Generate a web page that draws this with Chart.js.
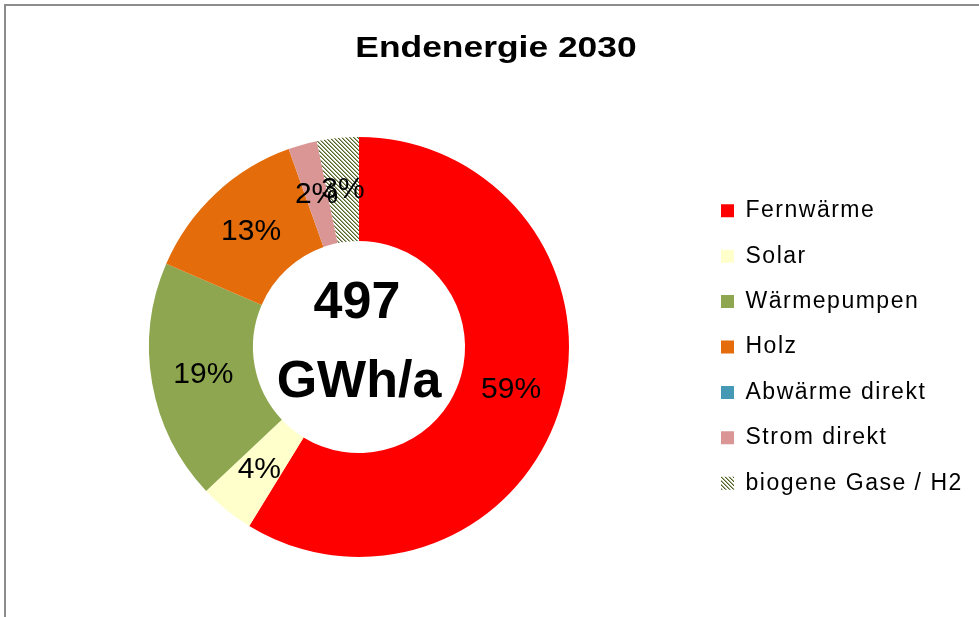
<!DOCTYPE html>
<html lang="de">
<head>
<meta charset="UTF-8" />
<title>Endenergie 2030</title>
<script src="https://cdn.jsdelivr.net/npm/chart.js"></script>
<style>
  html, body { margin: 0; padding: 0; background: #fff; }
  body { position: relative; width: 979px; height: 617px; overflow: hidden; }
  /* grey frame of the original chart object, only top and left visible */
  .frame { position: absolute; left: 4px; top: 4px; width: 1000px; height: 700px;
           border-left: 2px solid #8c8c8c; border-top: 2px solid #8c8c8c; }
  #chart { position: absolute; left: 0; top: 0; }
</style>
</head>
<body>
<div class="frame"></div>
<canvas id="chart" width="979" height="617"></canvas>

<script>
  // data (GWh/a)
  const categories = ["Fernwärme", "Solar", "Wärmepumpen", "Holz", "Abwärme direkt", "Strom direkt", "biogene Gase / H2"];
  const energyGWh = [292, 21, 92, 65, 0, 11, 16];
  const sliceColors = ["#ff0000", "#ffffcc", "#8da64f", "#e46c0a", "#4699b4", "#d99694"];
  const titleText = "Endenergie 2030";
  const unitText = "GWh/a";

  const canvas = document.getElementById("chart");
  const ctx = canvas.getContext("2d");

  // dark green diagonal hatch for the biogas slice
  function makeHatch() {
    const tile = document.createElement("canvas");
    tile.width = 4;
    tile.height = 4;
    const g = tile.getContext("2d");
    g.fillStyle = "#ffffff";
    g.fillRect(0, 0, 4, 4);
    for (let i = 0; i < 4; i++) {
      g.fillStyle = "#4f6228";
      g.fillRect(i, i, 1, 1);
      g.fillStyle = "#a3ad88";
      g.fillRect((i + 1) % 4, i, 1, 1);
    }
    return ctx.createPattern(tile, "repeat");
  }

  const colors = sliceColors.concat([makeHatch()]);
  const total = energyGWh.reduce((a, b) => a + b, 0);

  const LEGEND_PAD = 22.4;
  const LEGEND_BOX_X = 721;
  const CENTER_X = 359;

  const textPlugin = {
    id: "texts",
    beforeLayout(chart) {
      chart.ctx.letterSpacing = "1.5px";
    },
    beforeDraw(chart) {
      chart.ctx.letterSpacing = "1.5px";
    },
    afterDatasetsDraw(chart) {
      const c = chart.ctx;
      const meta = chart.getDatasetMeta(0);
      const area = chart.chartArea;
      const cx = (area.left + area.right) / 2;
      const cy = (area.top + area.bottom) / 2;

      c.save();
      c.letterSpacing = "0px";
      c.fillStyle = "#000";
      c.textAlign = "center";
      c.textBaseline = "middle";

      // percent labels
      c.font = '30px "Liberation Sans", Arial, sans-serif';
      meta.data.forEach((arc, i) => {
        if (!energyGWh[i]) return;
        const p = arc.tooltipPosition();
        c.fillText(Math.round(energyGWh[i] / total * 100) + "%", p.x, p.y);
      });

      // total in the hole
      c.font = 'bold 52px "Liberation Sans", Arial, sans-serif';
      c.fillText(String(total), cx - 2, cy - 43);
      c.fillText(unitText, cx, cy + 36);

      // title (the original is drawn rather wide)
      c.font = 'bold 30px "Liberation Sans", Arial, sans-serif';
      c.translate(496, 49);
      c.scale(1.18, 1);
      c.fillText(titleText, 0, 0);
      c.restore();
    }
  };

  const chart = new Chart(ctx, {
    type: "doughnut",
    data: {
      labels: categories,
      datasets: [{
        data: energyGWh,
        backgroundColor: colors,
        borderWidth: 0,
        hoverOffset: 0
      }]
    },
    options: {
      responsive: false,
      animation: false,
      cutout: "50.5%",
      layout: { padding: { top: 137, bottom: 60, left: 18, right: 0 } },
      plugins: {
        title: { display: false },
        tooltip: { enabled: false },
        legend: {
          position: "right",
          labels: {
            boxWidth: 13,
            boxHeight: 13,
            padding: LEGEND_PAD,
            color: "#000",
            font: { family: '"Liberation Sans", Arial, sans-serif', size: 23 }
          }
        }
      }
    },
    plugins: [textPlugin]
  });

  // move the legend so its boxes sit where they are in the original,
  // then centre the ring at CENTER_X
  const legendLeft = LEGEND_BOX_X - LEGEND_PAD;
  chart.options.layout.padding.right += chart.legend.left - legendLeft;
  chart.options.layout.padding.left = 2 * CENTER_X - legendLeft;
  chart.update("none");
</script>
</body>
</html>
